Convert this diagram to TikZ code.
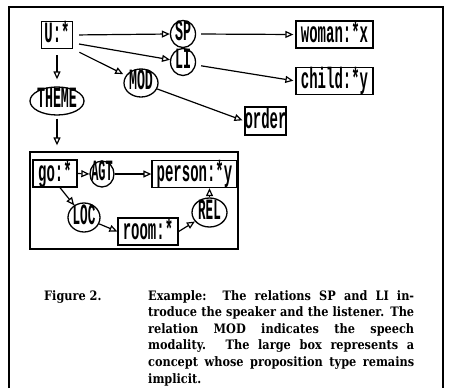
\documentclass[tikz,border=0pt]{standalone}
\usepackage{fontspec}
\usepackage{graphicx}
\setmainfont{Liberation Serif}
\newfontfamily\capserif{DejaVu Serif}[FakeStretch=0.87]
\newfontfamily\plotfont{Liberation Mono}
\usetikzlibrary{arrows.meta,shapes.geometric}
\newcommand{\lbl}[2][1]{\setbox0\hbox{\scalebox{#1}[2.1]{\plotfont\bfseries\fontsize{14}{14}\selectfont\vphantom{Ay}#2}}%
\dimen0=\ht0 \advance\dimen0 by -\dp0
\makebox[0pt]{\raisebox{-0.5\dimen0}[0pt][0pt]{\box0}}}
\begin{document}
\begin{tikzpicture}[x=1pt,y=-1pt,
  cbox/.style={draw, line width=1.3pt, rectangle, inner sep=0pt, minimum height=27pt},
  rel/.style={draw, line width=1.3pt, ellipse, inner sep=0pt},
  arr/.style={line width=1.2pt, -{Triangle[open,length=8pt,width=7pt]}},
  capfont/.style={font=\capserif\bfseries\fontsize{13}{16.6}\selectfont}
]
\useasboundingbox (0,0) rectangle (449,388);
\draw[line width=1.6pt] (9,388) -- (9,7) -- (443,7) -- (443,388);

\node[cbox, minimum width=31pt] (U) at (57,35) {\lbl{U:*}};
\node[rel, minimum width=25pt, minimum height=27pt] (SP) at (183,34) {\lbl[0.95]{SP}};
\node[rel, minimum width=25pt, minimum height=27pt] (LI) at (183,62) {\lbl[0.95]{LI}};
\node[cbox, minimum width=77pt] (woman) at (334.5,34.5) {\lbl{woman:*x}};
\node[cbox, minimum width=77pt] (child) at (334.5,81) {\lbl{child:*y}};
\node[rel, minimum width=34pt, minimum height=28pt] (MOD) at (141,83) {\lbl[0.95]{MOD}};
\node[cbox, minimum width=41pt, minimum height=28pt] (order) at (265.5,121) {\lbl{order}};
\node[rel, minimum width=54pt, minimum height=28pt] (THEME) at (57,101) {\lbl[0.95]{THEME}};
\node[draw, line width=1.3pt, rectangle, inner sep=0pt, minimum width=208pt, minimum height=97pt] (prop) at (134,200.5) {};
\node[cbox, minimum width=44pt] (go) at (55,173.5) {\lbl{go:*}};
\node[rel, minimum width=24pt, minimum height=26pt] (AGT) at (102,174) {\lbl[0.85]{AGT}};
\node[cbox, minimum width=85pt] (person) at (194.5,174) {\lbl{person:*y}};
\node[rel, minimum width=32pt, minimum height=29pt] (LOC) at (84,217.5) {\lbl[0.9]{LOC}};
\node[cbox, minimum width=60pt] (room) at (148,231.5) {\lbl{room:*}};
\node[rel, minimum width=35pt, minimum height=29pt] (REL) at (209.5,212.5) {\lbl[0.9]{REL}};

\draw[arr, shorten <=6pt] (U.east) -- (SP.west);
\draw[arr, shorten <=6pt] ([yshift=-8pt]U.east) -- (LI);
\draw[arr, shorten <=7pt, shorten >=3pt] (U.south east) -- (MOD);
\draw[arr, shorten <=6pt, shorten >=7pt] (U.south) -- (THEME.north);
\draw[arr, shorten <=3pt, shorten >=6pt] (THEME.south) -- (THEME.south |- prop.north);
\draw[arr, shorten <=5pt, shorten >=2pt] (SP.east) -- (woman.west);
\draw[arr, shorten <=5pt, shorten >=2pt] ([yshift=-3pt]LI.east) -- (child.west);
\draw[arr, shorten >=2pt] (MOD) -- (order.west);
\draw[arr] (go.east) -- (AGT.west);
\draw[arr] (AGT.east) -- (person.west);
\draw[arr] ([xshift=5pt]go.south) -- (LOC);
\draw[arr] (LOC) -- (room.west);
\draw[arr] (room.east) -- (REL);
\draw[arr] (REL.north) -- (REL.north |- person.south);

\node[capfont, anchor=base west, inner sep=0pt] (fig) at (44,300) {Figure 2.};
\node[anchor=base west, inner sep=0pt] (cap) at (148,300) {\parbox[t]{266pt}{\capserif\bfseries\fontsize{13}{16.6}\selectfont
\makebox[\linewidth][s]{Example:\ \ The relations SP and LI in-}\\
\makebox[\linewidth][s]{troduce the speaker and the listener. The}\\
\makebox[\linewidth][s]{relation MOD indicates the speech}\\
\makebox[\linewidth][s]{modality. The large box represents a}\\
\makebox[\linewidth][s]{concept whose proposition type remains}\\
implicit.}};
\end{tikzpicture}
\end{document}
